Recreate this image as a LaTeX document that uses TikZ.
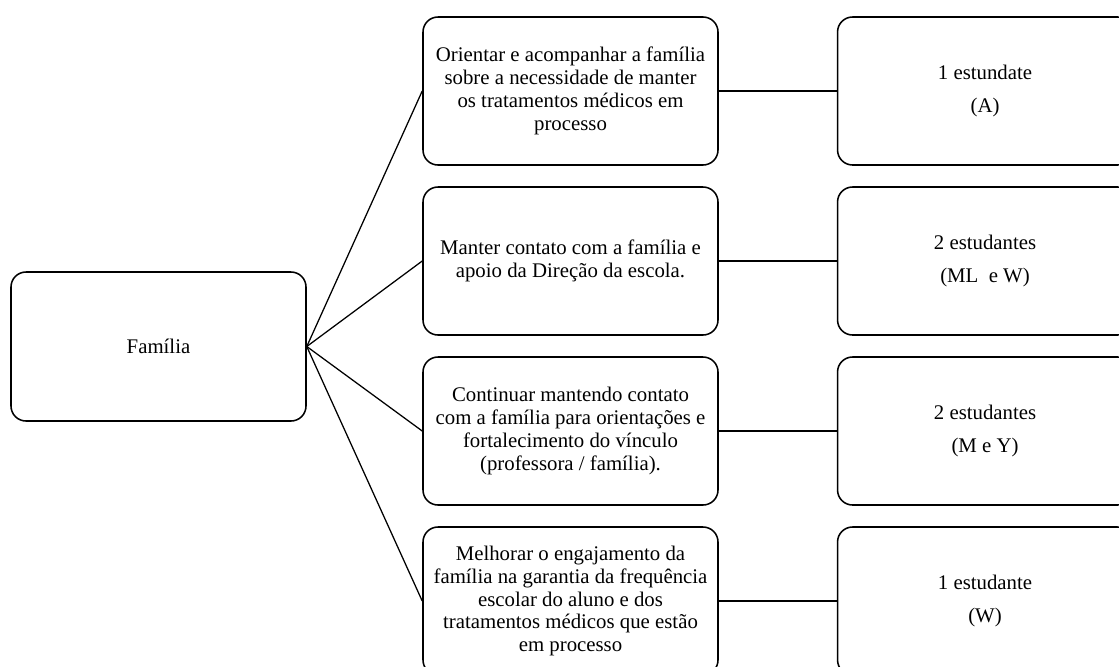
\documentclass[tikz,border=0pt]{standalone}
\usepackage{fontspec}
\setmainfont{Liberation Serif}
\usetikzlibrary{positioning}
\tikzset{link-line/.style={line width=0.9pt}}
\tikzset{box-node/.style={draw, line width=1.1pt, inner sep=0, minimum width=7.375cm, minimum height=3.7cm,
        rounded corners=0.375cm, align=center, font=\fontsize{14.8}{16.3}\selectfont}}
\tikzset{family-node/.style={box-node, minimum height=3.725cm}}
\tikzset{count-node/.style={box-node}}
\newcommand{\actionrow}[4] {
    \node[box-node] at (14.2625, #2) (action#1) {#3};
    \node[count-node, right=2.95cm of action#1] (count#1) {#4};

    \draw[link-line] (family.east) -- (action#1.west);
    \draw[link-line] (action#1) -- (count#1);
}

\begin{document}
\begin{tikzpicture}[]
            \useasboundingbox (0,0) rectangle (27.975,-16.65);
            \clip (0,0) rectangle (27.975,-16.65);
            \node[family-node] at (3.9625, -8.6625) (family) {Família};

            \actionrow{1}{-2.275}{Orientar e acompanhar a família\\sobre a necessidade de manter\\os tratamentos médicos em\\processo}{1 estundate\\[7.3pt](A)}
            \actionrow{2}{-6.525}{Manter contato com a família e\\apoio da Direção da escola.}{2 estudantes\\[7.3pt](ML\ \ e W)}
            \actionrow{3}{-10.775}{Continuar mantendo contato\\com a família para orientações e\\fortalecimento do vínculo\\(professora / família).}{2 estudantes\\[7.3pt](M e Y)}
            \actionrow{4}{-15.025}{Melhorar o engajamento da\\família na garantia da frequência\\escolar do aluno e dos\\tratamentos médicos que estão\\em processo}{1 estudante\\[7.3pt](W)}
        \end{tikzpicture}
\end{document}
